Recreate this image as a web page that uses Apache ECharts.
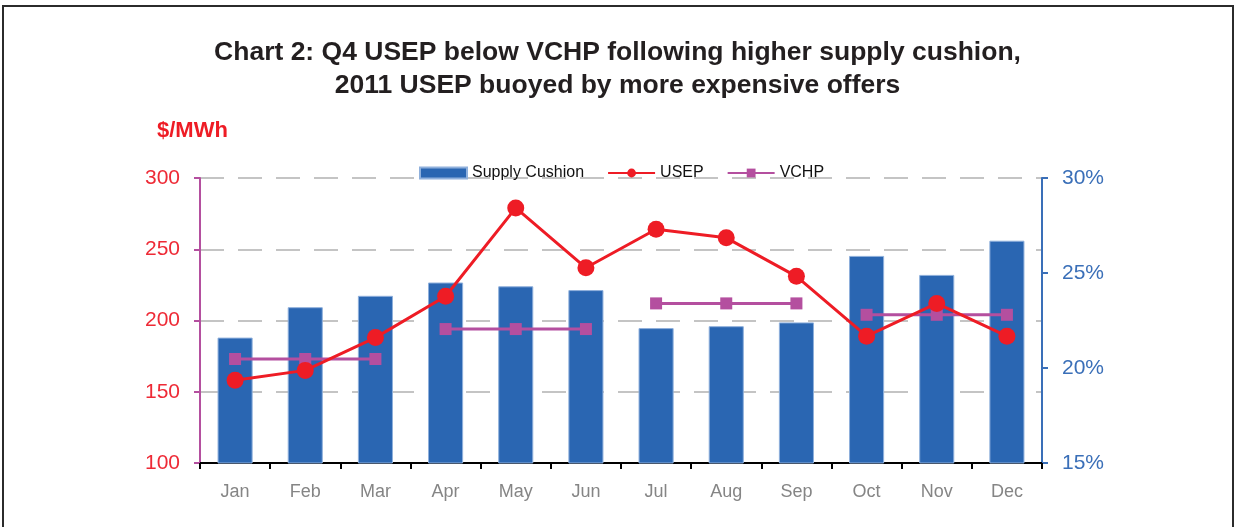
<!DOCTYPE html>
<html>
<head>
<meta charset="utf-8">
<script src="https://cdn.jsdelivr.net/npm/echarts@6/dist/echarts.min.js"></script>
<style>
  body { margin: 0; background: #fff; }
  #frame {
    position: absolute; left: 2px; top: 5px; width: 1228px; height: 600px;
    border: 2px solid #2b2b2b; border-bottom: none;
  }
  #chart { position: absolute; left: 0; top: 0; width: 1235px; height: 527px; }
</style>
</head>
<body>
<div id="frame"></div>
<div id="chart"></div>
<script>
const months = ['Jan', 'Feb', 'Mar', 'Apr', 'May', 'Jun', 'Jul', 'Aug', 'Sep', 'Oct', 'Nov', 'Dec']
// supply cushion, % (right axis)
const supplyCushion = [21.6, 23.2, 23.8, 24.5, 24.3, 24.1, 22.1, 22.2, 22.4, 25.9, 24.9, 26.7]
// USEP, $/MWh (left axis)
const usep = [158, 165, 188, 217, 279, 237, 264, 258, 231, 189, 212, 189]
// VCHP per quarter, $/MWh
const vchpQuarters = [173, 194, 212, 204]

const leftTicks = { min: 100, max: 300, interval: 50 }
const rightTicks = { min: 15, max: 30, interval: 5 }

const chart = echarts.init(document.getElementById('chart'))

// each quarter is its own flat segment, so one series per quarter
const vchpSeries = vchpQuarters.map((v, q) => {
  const data = months.map((m, i) => (Math.floor(i / 3) === q ? v : null))
  return {
    name: 'VCHP',
    type: 'line',
    yAxisIndex: 0,
    data: data,
    symbol: 'rect',
    symbolSize: 12,
    itemStyle: { color: '#b44f9f' },
    lineStyle: { color: '#b44f9f', width: 3 },
    z: 3,
  }
})

const font = 'Liberation Sans, Arial, sans-serif'

const option = {
  animation: false,
  title: {
    text: 'Chart 2: Q4 USEP below VCHP following higher supply cushion,\n2011 USEP buoyed by more expensive offers',
    left: 'center',
    top: 31,
    textStyle: {
      fontFamily: font,
      fontWeight: 'bold',
      fontSize: 26.5,
      lineHeight: 33,
      color: '#231f20',
    },
  },
  graphic: [
    {
      type: 'text',
      left: 157,
      top: 120,
      style: {
        text: '$/MWh',
        font: 'bold 22px Liberation Sans, Arial, sans-serif',
        fill: '#ee1c25',
      },
    },
  ],
  legend: {
    left: 414,
    top: 160,
    itemWidth: 47,
    itemHeight: 11,
    itemGap: 23,
    textStyle: { fontFamily: font, fontSize: 16, color: '#111' },
    data: [
      { name: 'Supply Cushion', icon: 'rect' },
      { name: 'USEP' },
      { name: 'VCHP' },
    ],
  },
  grid: {
    left: 200,
    right: 193,
    top: 178,
    bottom: 64,
  },
  xAxis: {
    type: 'category',
    data: months,
    axisLine: { lineStyle: { color: '#000', width: 2 } },
    axisTick: { show: true, length: 6, lineStyle: { color: '#000', width: 2 } },
    axisLabel: { fontFamily: font, fontSize: 18, color: '#858585', margin: 20 },
  },
  yAxis: [
    {
      type: 'value',
      min: leftTicks.min,
      max: leftTicks.max,
      interval: leftTicks.interval,
      axisLine: { show: true, lineStyle: { color: '#b44f9f', width: 2 } },
      axisTick: { show: true, length: 6, lineStyle: { color: '#b44f9f', width: 2 } },
      axisLabel: { fontFamily: font, fontSize: 21, color: '#ee2a36', margin: 20 },
      splitLine: {
        show: true,
        lineStyle: { color: '#c4c4c4', width: 2, type: [24, 14] },
      },
    },
    {
      type: 'value',
      position: 'right',
      min: rightTicks.min,
      max: rightTicks.max,
      interval: rightTicks.interval,
      axisLine: { show: true, lineStyle: { color: '#3a6fb8', width: 2 } },
      axisTick: { show: true, length: 6, lineStyle: { color: '#3a6fb8', width: 2 } },
      axisLabel: {
        fontFamily: font,
        fontSize: 21,
        color: '#3a6fb8',
        margin: 20,
        formatter: '{value}%',
      },
      splitLine: { show: false },
    },
  ],
  series: [
    {
      name: 'Supply Cushion',
      type: 'bar',
      yAxisIndex: 1,
      data: supplyCushion,
      barWidth: '50%',
      itemStyle: { color: '#2a66b2', borderColor: '#8fb0dc', borderWidth: 1 },
      z: 2,
    },
    {
      name: 'USEP',
      type: 'line',
      yAxisIndex: 0,
      data: usep,
      symbol: 'circle',
      symbolSize: 17,
      itemStyle: { color: '#ee1c25' },
      lineStyle: { color: '#ee1c25', width: 3 },
      z: 4,
    },
    ...vchpSeries,
  ],
}

chart.setOption(option)
</script>
</body>
</html>
